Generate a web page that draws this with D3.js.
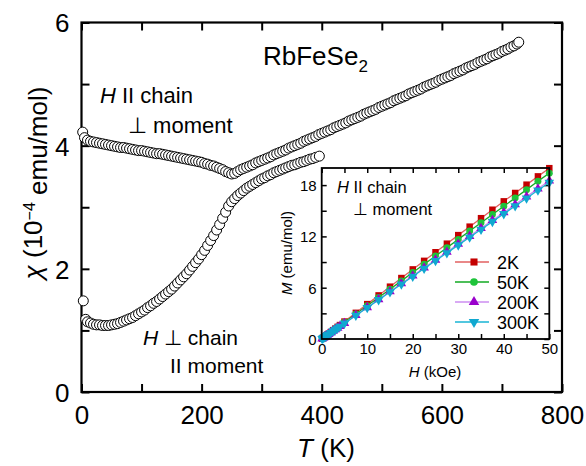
<!DOCTYPE html>
<html>
<head>
<meta charset="utf-8">
<script src="https://cdn.jsdelivr.net/npm/d3@7"></script>
<style>
body { margin: 0; background: #fff; }
text { font-family: "Liberation Sans", Arial, sans-serif; fill: #000; }
</style>
</head>
<body>
<script>
// chi(T), H || chain
var tPar = [2,5,10,15,20,25,30,35,40,45,50,55,60,65,70,75,80,85,90,95,100,105,110,115,120,125,130,135,140,145,150,155,160,165,170,175,180,185,190,195,200,205,210,215,220,225,230,235,240,245,250,255,260,265,270,275,280,285,290,295,300,305,310,315,320,325,330,335,340,345,350,355,360,365,370,375,380,385,390,395,400,405,410,415,420,425,430,435,440,445,450,455,460,465,470,475,480,485,490,495,500,505,510,515,520,525,530,535,540,545,550,555,560,565,570,575,580,585,590,595,600,605,610,615,620,625,630,635,640,645,650,655,660,665,670,675,680,685,690,695,700,705,710,715,720,725,728];
var chiPar = [4.22,4.13,4.09,4.07,4.06,4.05,4.04,4.03,4.02,4.01,4.00,3.99,3.98,3.97,3.97,3.96,3.95,3.94,3.93,3.92,3.92,3.91,3.90,3.89,3.88,3.87,3.87,3.86,3.85,3.84,3.83,3.82,3.81,3.80,3.79,3.78,3.77,3.76,3.75,3.74,3.73,3.71,3.70,3.68,3.67,3.65,3.63,3.61,3.58,3.56,3.54,3.55,3.58,3.61,3.63,3.65,3.67,3.69,3.72,3.74,3.76,3.78,3.80,3.82,3.85,3.87,3.89,3.91,3.93,3.96,3.98,4.00,4.02,4.04,4.07,4.09,4.11,4.13,4.15,4.18,4.20,4.22,4.24,4.26,4.29,4.31,4.33,4.35,4.37,4.40,4.42,4.44,4.46,4.48,4.51,4.53,4.55,4.57,4.59,4.62,4.64,4.66,4.68,4.70,4.73,4.75,4.77,4.79,4.81,4.84,4.86,4.88,4.90,4.92,4.95,4.97,4.99,5.01,5.03,5.06,5.08,5.10,5.12,5.14,5.17,5.19,5.21,5.23,5.26,5.28,5.30,5.32,5.35,5.37,5.39,5.41,5.44,5.46,5.48,5.50,5.53,5.55,5.57,5.60,5.62,5.65,5.68];

// chi(T), H perp chain
var tPerp = [3,7,10,15,20,25,30,35,40,45,50,55,60,65,70,75,80,85,90,95,100,105,110,115,120,125,130,135,140,145,150,155,160,165,170,175,180,185,190,195,200,205,210,215,220,225,230,235,240,245,250,255,260,265,270,275,280,285,290,295,300,305,310,315,320,325,330,335,340,345,350,355,360,365,370,375,380,385,390,396];
var chiPerp = [1.48,1.18,1.14,1.12,1.10,1.09,1.09,1.08,1.08,1.08,1.09,1.10,1.11,1.13,1.15,1.17,1.19,1.21,1.24,1.27,1.30,1.33,1.37,1.40,1.44,1.47,1.51,1.55,1.59,1.63,1.67,1.72,1.77,1.82,1.87,1.92,1.98,2.04,2.10,2.16,2.23,2.30,2.38,2.46,2.54,2.63,2.72,2.82,2.92,3.02,3.09,3.14,3.19,3.23,3.27,3.31,3.34,3.37,3.40,3.43,3.46,3.48,3.51,3.53,3.56,3.58,3.60,3.62,3.64,3.66,3.68,3.69,3.71,3.73,3.74,3.76,3.78,3.79,3.81,3.83];

// inset M(H)
var hField = [0.1,0.3,0.5,0.75,1,1.25,1.5,2,2.5,3,3.5,4,5,7.5,10,12.5,15,17.5,20,22.5,25,27.5,30,32.5,35,37.5,40,42.5,45,47.5,50];
var m2K   = [0.04,0.12,0.20,0.30,0.41,0.51,0.61,0.81,1.02,1.22,1.42,1.63,2.04,3.06,4.08,5.10,6.12,7.13,8.14,9.14,10.15,11.15,12.15,13.14,14.13,15.12,16.10,17.08,18.05,19.02,19.98];
var m50K  = [0.04,0.12,0.19,0.29,0.39,0.49,0.58,0.78,0.97,1.17,1.36,1.56,1.95,2.92,3.89,4.86,5.83,6.80,7.77,8.74,9.71,10.68,11.65,12.62,13.59,14.56,15.53,16.50,17.47,18.44,19.40];
var m200K = [0.04,0.11,0.19,0.28,0.37,0.46,0.56,0.74,0.93,1.11,1.30,1.48,1.85,2.78,3.70,4.63,5.55,6.48,7.40,8.33,9.25,10.18,11.10,12.03,12.95,13.88,14.80,15.73,16.65,17.58,18.50];
var m300K = [0.04,0.11,0.18,0.27,0.37,0.46,0.55,0.73,0.92,1.10,1.28,1.46,1.83,2.75,3.66,4.58,5.49,6.41,7.32,8.24,9.15,10.07,10.98,11.90,12.81,13.73,14.64,15.56,16.47,17.39,18.30];
var seriesNames = ["2K", "50K", "200K", "300K"];

var xTickLabels = [0, 200, 400, 600, 800];
var yTickLabels = [0, 2, 4, 6];
var insetXTickLabels = [0, 10, 20, 30, 40, 50];
var insetYTickLabels = [0, 6, 12, 18];

function draw() {
    var width = 586, height = 466;
    var svg = d3.select("body").append("svg")
        .attr("width", width)
        .attr("height", height);

    // ---- main panel ----
    var x = d3.scaleLinear().domain([0, 800]).range([81.5, 562]);
    var y = d3.scaleLinear().domain([0, 6]).range([392, 22.5]);

    function tickAxis(axis, ticks, labels, size, pad) {
        return axis.tickValues(ticks)
            .tickSizeInner(-size).tickSizeOuter(0).tickPadding(pad)
            .tickFormat(function (d) { return labels.indexOf(d) >= 0 ? d : ""; });
    }
    var mainFont = 26;
    var gx = svg.append("g").attr("transform", "translate(0," + y(0) + ")")
        .call(tickAxis(d3.axisBottom(x), d3.range(0, 801, 100), xTickLabels, 8, 14));
    var gxt = svg.append("g").attr("transform", "translate(0," + y(6) + ")")
        .call(tickAxis(d3.axisTop(x), d3.range(0, 801, 100), [], 8, 4));
    var gy = svg.append("g").attr("transform", "translate(" + x(0) + ",0)")
        .call(tickAxis(d3.axisLeft(y), d3.range(0, 7, 1), yTickLabels, 8, 12));
    var gyr = svg.append("g").attr("transform", "translate(" + x(800) + ",0)")
        .call(tickAxis(d3.axisRight(y), d3.range(0, 7, 1), [], 8, 4));
    [gx, gxt, gy, gyr].forEach(function (g) {
        g.select(".domain").remove();
        g.selectAll("line").attr("stroke", "#000").attr("stroke-width", 2);
        g.selectAll("text").style("font-size", mainFont + "px")
            .style("font-family", "'Liberation Sans', Arial, sans-serif").attr("fill", "#000");
    });
    gy.selectAll("text").attr("dy", "0.36em");

    svg.append("rect")
        .attr("x", x(0)).attr("y", y(6))
        .attr("width", x(800) - x(0)).attr("height", y(0) - y(6))
        .attr("fill", "none").attr("stroke", "#000").attr("stroke-width", 2.2);

    // data circles
    function curve(ts, cs) {
        svg.append("g").selectAll("circle")
            .data(ts.map(function (t, i) { return [t, cs[i]]; }))
            .enter().append("circle")
            .attr("cx", function (d) { return x(d[0]); })
            .attr("cy", function (d) { return y(d[1]); })
            .attr("r", 5)
            .attr("fill", "#fff")
            .attr("stroke", "#000")
            .attr("stroke-width", 1);
    }
    curve(tPar, chiPar);
    curve(tPerp, chiPerp);

    // axis titles
    var xt = svg.append("text").attr("x", 326).attr("y", 457)
        .attr("text-anchor", "middle").style("font-size", "26px");
    xt.append("tspan").style("font-style", "italic").text("T");
    xt.append("tspan").text(" (K)");

    var yt = svg.append("text")
        .attr("transform", "translate(42,183) rotate(-90)")
        .attr("text-anchor", "middle").style("font-size", "26px");
    yt.append("tspan").style("font-style", "italic").text("\u03C7");
    yt.append("tspan").text(" (10");
    yt.append("tspan").attr("dy", "-0.45em").style("font-size", "16px").text("\u22124");
    yt.append("tspan").attr("dy", "0.45em").text(" emu/mol)");

    // annotations
    var title = svg.append("text").attr("x", 263).attr("y", 65).style("font-size", "26px");
    title.append("tspan").text("RbFeSe");
    title.append("tspan").attr("dy", "0.4em").style("font-size", "17px").text("2");

    function note(tx, ty, parts, size) {
        var t = svg.append("text").attr("x", tx).attr("y", ty).style("font-size", size + "px");
        parts.forEach(function (p) {
            t.append("tspan").style("font-style", p[1] ? "italic" : "normal").text(p[0]);
        });
    }
    note(100, 103, [["H", true], [" II chain", false]], 22);
    note(128, 133, [["\u22A5 moment", false]], 22);
    note(143, 345, [["H", true], [" \u22A5 chain", false]], 21);
    note(170, 373, [["II  moment", false]], 21);

    // ---- inset ----
    var ix = d3.scaleLinear().domain([0, 50]).range([321.7, 549.3]);
    var iy = d3.scaleLinear().domain([0, 20]).range([339, 168]);
    var inset = svg.append("g");
    inset.append("rect")
        .attr("x", ix(0)).attr("y", iy(20))
        .attr("width", ix(50) - ix(0)).attr("height", iy(0) - iy(20))
        .attr("fill", "#fff");

    var insetFont = 15;
    var ax = [
        inset.append("g").attr("transform", "translate(0," + iy(0) + ")")
            .call(tickAxis(d3.axisBottom(ix), d3.range(0, 51, 5), insetXTickLabels, 5, 4)),
        inset.append("g").attr("transform", "translate(0," + iy(20) + ")")
            .call(tickAxis(d3.axisTop(ix), d3.range(0, 51, 5), [], 5, 4)),
        inset.append("g").attr("transform", "translate(" + ix(0) + ",0)")
            .call(tickAxis(d3.axisLeft(iy), d3.range(0, 21, 3), insetYTickLabels, 5, 5)),
        inset.append("g").attr("transform", "translate(" + ix(50) + ",0)")
            .call(tickAxis(d3.axisRight(iy), d3.range(0, 21, 3), [], 5, 4))
    ];
    ax.forEach(function (g) {
        g.select(".domain").remove();
        g.selectAll("line").attr("stroke", "#000").attr("stroke-width", 1.5);
        g.selectAll("text").style("font-size", insetFont + "px")
            .style("font-family", "'Liberation Sans', Arial, sans-serif").attr("fill", "#000");
    });
    ax[2].selectAll("text").attr("dy", "0.36em");

    var series = [
        { name: seriesNames[0], vals: m2K, line: "#e26060", mark: "#c40000", sym: d3.symbolSquare, size: 42, rot: 0 },
        { name: seriesNames[1], vals: m50K, line: "#12aa22", mark: "#1ec43a", sym: d3.symbolCircle, size: 38, rot: 0 },
        { name: seriesNames[2], vals: m200K, line: "#cc8ef0", mark: "#9a00cc", sym: d3.symbolTriangle, size: 40, rot: 0 },
        { name: seriesNames[3], vals: m300K, line: "#18b4d4", mark: "#10a8d0", sym: d3.symbolTriangle, size: 40, rot: 180 }
    ];
    var line = d3.line()
        .x(function (d) { return ix(d[0]); })
        .y(function (d) { return iy(d[1]); });
    series.forEach(function (s) {
        var pts = hField.map(function (h, i) { return [h, s.vals[i]]; });
        inset.append("path").datum(pts)
            .attr("d", line)
            .attr("fill", "none").attr("stroke", s.line).attr("stroke-width", 1.3);
        inset.append("g").selectAll("path")
            .data(pts).enter().append("path")
            .attr("d", d3.symbol().type(s.sym).size(s.size))
            .attr("transform", function (d) {
                return "translate(" + ix(d[0]) + "," + iy(d[1]) + ") rotate(" + s.rot + ")";
            })
            .attr("fill", s.mark);
    });

    inset.append("rect")
        .attr("x", ix(0)).attr("y", iy(20))
        .attr("width", ix(50) - ix(0)).attr("height", iy(0) - iy(20))
        .attr("fill", "none").attr("stroke", "#000").attr("stroke-width", 1.8);

    // legend
    series.forEach(function (s, i) {
        var ly = 262 + i * 20;
        inset.append("line").attr("x1", 455).attr("x2", 489).attr("y1", ly).attr("y2", ly)
            .attr("stroke", s.line).attr("stroke-width", 1.5);
        inset.append("path")
            .attr("d", d3.symbol().type(s.sym).size(s.size + 8))
            .attr("transform", "translate(474," + ly + ") rotate(" + s.rot + ")")
            .attr("fill", s.mark);
        inset.append("text").attr("x", 497).attr("y", ly + 6.5)
            .style("font-size", "18px").text(s.name);
    });

    // inset labels and note
    var il = inset.append("text").attr("x", 435).attr("y", 377)
        .attr("text-anchor", "middle").style("font-size", "15px");
    il.append("tspan").style("font-style", "italic").text("H");
    il.append("tspan").text(" (kOe)");

    var ml = inset.append("text")
        .attr("transform", "translate(292,253) rotate(-90)")
        .attr("text-anchor", "middle").style("font-size", "15px");
    ml.append("tspan").style("font-style", "italic").text("M");
    ml.append("tspan").text(" (emu/mol)");

    var n1 = inset.append("text").attr("x", 337).attr("y", 193).style("font-size", "16.5px");
    n1.append("tspan").style("font-style", "italic").text("H");
    n1.append("tspan").text(" II chain");
    inset.append("text").attr("x", 353).attr("y", 215).style("font-size", "16.5px")
        .text("\u22A5 moment");
}
draw();
</script>
</body>
</html>
